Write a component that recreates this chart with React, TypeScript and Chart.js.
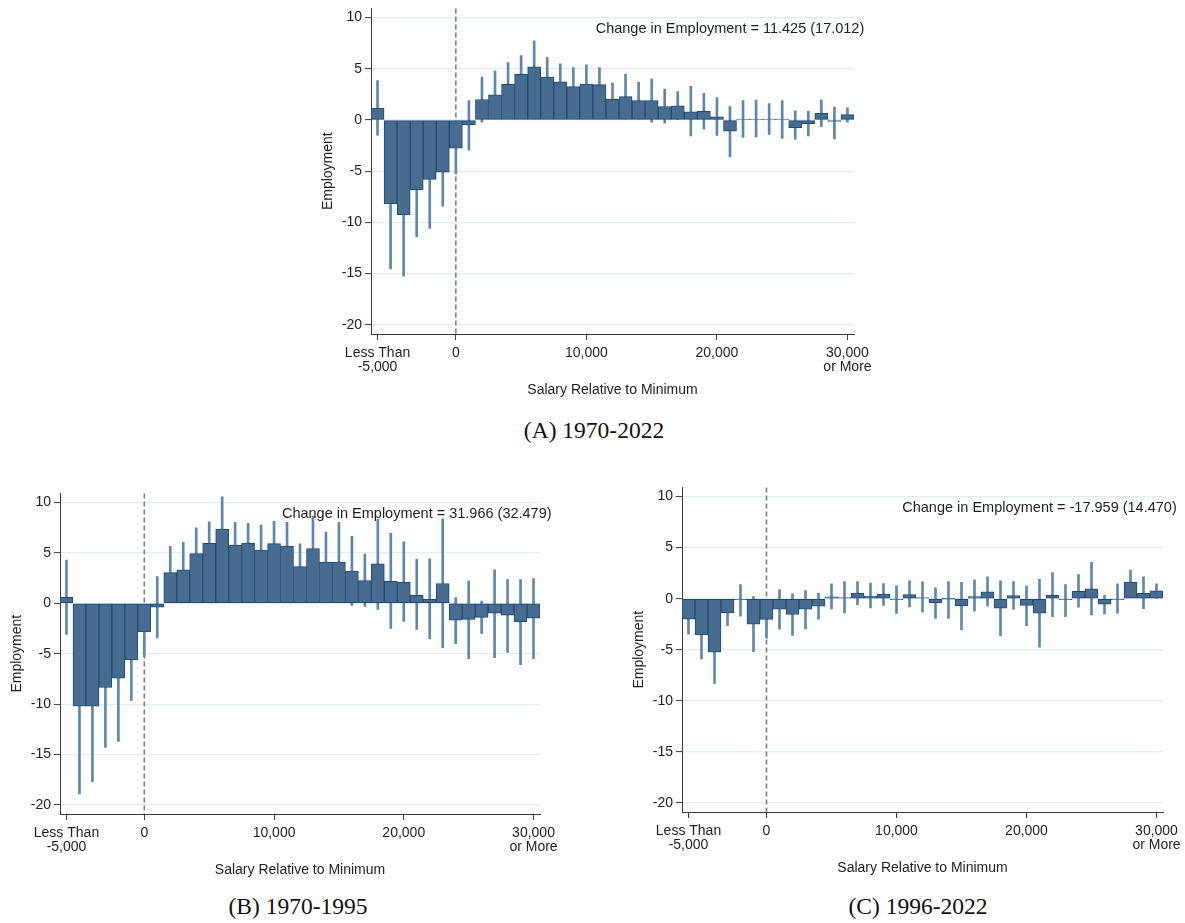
import React, { useEffect, useRef } from "react";
import { Chart, registerables } from "chart.js";

Chart.register(...registerables);

// ---------------- data ----------------
// bin centres (salary relative to minimum), first = "Less Than -5,000", last = "30,000 or More"
const salaryBins = [
  -6000, -5000, -4000, -3000, -2000, -1000, 0, 1000, 2000, 3000, 4000, 5000, 6000,
  7000, 8000, 9000, 10000, 11000, 12000, 13000, 14000, 15000, 16000, 17000, 18000,
  19000, 20000, 21000, 22000, 23000, 24000, 25000, 26000, 27000, 28000, 29000, 30000,
];

const xTickValues = [-6000, 0, 10000, 20000, 30000];
const xTickLabels: (string | string[])[] = [["Less Than", "-5,000"], "0", "10,000", "20,000", ["30,000", "or More"]];
const yTickValues = [-20, -15, -10, -5, 0, 5, 10];

const refLineX = 0;
const noteX = 21000;
const noteY = 8.9;

// Panel A: 1970-2022
const estA = [
  1.16, -8.2, -9.25, -6.8, -5.8, -5.1, -2.74, -0.48, 2.0, 2.45, 3.48, 4.45, 5.19,
  4.19, 3.74, 3.26, 3.5, 3.45, 2.03, 2.29, 1.9, 1.9, 1.32, 1.39, 0.8,
  0.84, 0.3, -1.1, 0.05, 0.1, 0.05, 0.02, -0.75, -0.35, 0.65, -0.15, 0.52,
];
const hiA = [
  3.84, -1.85, -3.25, -2.2, -1.0, -1.78, -0.21, 1.9, 4.2, 4.77, 5.6, 6.3, 7.74,
  6.1, 5.48, 5.13, 5.39, 5.13, 3.6, 4.48, 3.7, 4.0, 3.0, 2.77, 3.3,
  2.6, 2.2, 1.3, 1.9, 1.95, 1.6, 1.9, 0.9, 0.87, 1.97, 1.26, 1.2,
];
const loA = [
  -1.48, -14.55, -15.25, -11.4, -10.6, -8.42, -5.27, -2.94, -0.2, 0.13, 1.36, 2.6, 2.64,
  2.28, 2.0, 1.39, 1.61, 1.77, 0.46, 0.1, 0.1, -0.2, -0.3, 0.0, -1.55,
  -0.9, -1.5, -3.6, -1.7, -1.65, -1.4, -1.8, -1.9, -1.55, -0.65, -1.84, -0.2,
];
const noteA = "Change in Employment = 11.425 (17.012)";

// Panel B: 1970-1995
const estB = [
  0.59, -10.2, -10.2, -8.35, -7.42, -5.62, -2.84, -0.39, 3.04, 3.33, 4.93, 5.95, 7.35,
  5.78, 5.98, 5.29, 5.92, 5.67, 3.63, 5.42, 4.08, 4.08, 3.2, 2.25, 3.92,
  2.19, 2.09, 0.78, 0.39, 1.96, -1.67, -1.6, -1.4, -0.98, -1.18, -1.83, -1.47,
];
const hiB = [
  4.28, -1.5, -2.7, -2.4, -1.14, -1.6, -0.38, 2.65, 5.65, 6.05, 7.48, 8.07, 10.55,
  8.04, 7.94, 7.75, 8.14, 8.04, 5.9, 8.66, 7.06, 8.04, 6.63, 4.87, 8.33,
  6.93, 6.1, 4.35, 4.4, 8.37, 0.56, 2.2, 0.23, 3.33, 2.35, 2.35, 2.45,
];
const loB = [
  -3.1, -18.9, -17.7, -14.3, -13.7, -9.64, -5.3, -3.43, 0.43, 0.61, 2.38, 3.83, 4.15,
  3.52, 4.02, 2.83, 3.7, 3.3, 1.36, 2.18, 1.1, 0.12, -0.2, -0.3, -0.6,
  -2.5, -1.8, -2.6, -3.5, -4.4, -4.0, -5.5, -3.0, -5.4, -4.87, -6.08, -5.5,
];
const noteB = "Change in Employment = 31.966 (32.479)";

// Panel C: 1996-2022
const estC = [
  -2.0, -3.55, -5.23, -1.39, -0.05, -2.5, -2.03, -1.03, -1.55, -1.03, -0.74, 0.19, 0.1,
  0.55, 0.26, 0.45, -0.05, 0.39, 0.05, -0.39, 0.0, -0.68, 0.2, 0.68, -0.94,
  0.29, -0.65, -1.42, 0.32, -0.1, 0.71, 0.97, -0.55, -0.05, 1.61, 0.52, 0.77,
];
const hiC = [
  -0.5, -1.2, -2.15, -0.13, 1.39, 0.2, -0.2, 0.9, 0.48, 0.8, 0.55, 1.45, 1.68,
  1.68, 1.52, 1.48, 1.26, 1.74, 1.65, 1.06, 1.68, 1.6, 1.84, 2.13, 1.74,
  1.68, 1.23, 1.9, 2.55, 1.39, 2.35, 3.55, 0.32, 1.45, 2.8, 2.13, 1.45,
];
const loC = [
  -3.48, -5.9, -8.3, -2.65, -1.71, -5.2, -3.87, -3.0, -3.6, -2.97, -2.0, -1.0, -1.39,
  -0.58, -0.9, -0.65, -1.45, -0.8, -1.3, -1.94, -1.94, -3.06, -1.23, -0.74, -3.65,
  -1.03, -2.65, -4.74, -1.77, -1.77, -0.84, -1.6, -1.5, -1.42, 0.4, -0.97, 0.06,
];
const noteC = "Change in Employment = -17.959 (14.470)";

const captionA = "(A) 1970-2022";
const captionB = "(B) 1970-1995";
const captionC = "(C) 1996-2022";

// ---------------- styles / layout ----------------
const SANS = '"Liberation Sans", Arial, Helvetica, sans-serif';
const SERIF = '"Liberation Serif", "Times New Roman", serif';
const BAR_FILL = "#476c90";
const BAR_EDGE = "#1f4a72";
const CI_COLOR = "#5f87ae";
const GRID = "#e4eced";
const AXIS = "#3c3c3c";
const TEXT = "#1e1e1e";

const Y_W = 70;
const X_H = 75;
const PAD_T = 8;
const PAD_R = 30;

type PanelProps = {
  est: number[];
  hi: number[];
  lo: number[];
  note: string;
  area: { left: number; top: number; right: number; bottom: number };
};

function Panel({ est, hi, lo, note, area }: PanelProps) {
  const ref = useRef<HTMLCanvasElement>(null);
  const cLeft = area.left - Y_W;
  const cTop = area.top - PAD_T;
  const cW = area.right + PAD_R - cLeft;
  const cH = area.bottom + X_H - cTop;

  useEffect(() => {
    if (!ref.current) return;
    const overlay = {
      id: "overlay",
      beforeDatasetsDraw(chart: any) {
        const { ctx, chartArea, scales } = chart;
        const x0 = scales.x.getPixelForValue(refLineX);
        ctx.save();
        ctx.strokeStyle = "#7e7e7e";
        ctx.lineWidth = 1.6;
        ctx.setLineDash([5, 3]);
        ctx.beginPath();
        ctx.moveTo(x0, chartArea.top);
        ctx.lineTo(x0, chartArea.bottom);
        ctx.stroke();
        ctx.restore();
      },
      afterDatasetsDraw(chart: any) {
        const { ctx, scales } = chart;
        ctx.save();
        ctx.font = `14.5px ${SANS}`;
        ctx.fillStyle = TEXT;
        ctx.textAlign = "center";
        ctx.textBaseline = "middle";
        ctx.fillText(note, scales.x.getPixelForValue(noteX), scales.y.getPixelForValue(noteY));
        ctx.restore();
      },
    };

    const chart = new Chart(ref.current, {
      type: "bar",
      data: {
        datasets: [
          {
            label: "estimate",
            data: salaryBins.map((x, i) => ({ x, y: est[i] })),
            backgroundColor: BAR_FILL,
            borderColor: BAR_EDGE,
            borderWidth: 1,
            borderSkipped: false,
            grouped: false,
            barPercentage: 1,
            categoryPercentage: 1,
            minBarLength: 1,
            order: 0,
          } as any,
          {
            label: "ci",
            data: salaryBins.map((x, i) => ({ x, y: [lo[i], hi[i]] })),
            backgroundColor: CI_COLOR,
            borderWidth: 0,
            barThickness: 2,
            grouped: false,
            order: 1,
          } as any,
        ],
      },
      options: {
        responsive: false,
        animation: false,
        devicePixelRatio: 1,
        layout: { padding: { top: PAD_T, right: PAD_R, left: 0, bottom: 0 } },
        plugins: { legend: { display: false }, tooltip: { enabled: false } },
        scales: {
          x: {
            type: "linear",
            min: -6500,
            max: 30500,
            offset: false,
            afterBuildTicks: (s: any) => {
              s.ticks = xTickValues.map((v) => ({ value: v }));
            },
            afterFit: (s: any) => {
              s.height = X_H;
            },
            ticks: {
              autoSkip: false,
              maxRotation: 0,
              padding: 6,
              color: TEXT,
              font: { family: SANS, size: 14, lineHeight: 1.0 },
              callback: (v: any) => {
                const i = xTickValues.indexOf(Number(v));
                return i >= 0 ? xTickLabels[i] : "";
              },
            },
            grid: {
              display: true,
              offset: false,
              drawOnChartArea: false,
              drawTicks: true,
              tickLength: 6,
              tickColor: AXIS,
              tickWidth: 1,
            },
            border: { display: true, color: AXIS, width: 1 },
            title: {
              display: true,
              text: "Salary Relative to Minimum",
              color: TEXT,
              font: { family: SANS, size: 14, lineHeight: 1.2 },
              padding: { top: 0, bottom: 10 },
            },
          } as any,
          y: {
            type: "linear",
            min: -20.9,
            max: 10.9,
            afterBuildTicks: (s: any) => {
              s.ticks = yTickValues.map((v) => ({ value: v }));
            },
            afterFit: (s: any) => {
              s.width = Y_W;
            },
            ticks: {
              padding: 3,
              color: TEXT,
              font: { family: SANS, size: 14 },
              callback: (v: any) => String(v),
            },
            grid: {
              color: GRID,
              lineWidth: 1.2,
              drawTicks: true,
              tickLength: 6,
              tickColor: AXIS,
              tickWidth: 1,
            },
            border: { display: true, color: AXIS, width: 1 },
            title: {
              display: true,
              text: "Employment",
              color: TEXT,
              font: { family: SANS, size: 14, lineHeight: 1.2 },
              padding: { top: 19, bottom: 0 },
            },
          } as any,
        },
      },
      plugins: [overlay],
    });
    return () => chart.destroy();
  }, []);

  return (
    <canvas
      ref={ref}
      width={cW}
      height={cH}
      style={{ position: "absolute", left: cLeft, top: cTop, width: cW, height: cH }}
    />
  );
}

function Caption({ text, x, y }: { text: string; x: number; y: number }) {
  return (
    <div
      style={{
        position: "absolute",
        left: x,
        top: y,
        transform: "translate(-50%, -50%)",
        whiteSpace: "nowrap",
        fontFamily: SERIF,
        fontSize: 23.5,
        color: "#111",
      }}
    >
      {text}
    </div>
  );
}

export default function App() {
  return (
    <div
      style={{
        position: "absolute",
        left: 0,
        top: 0,
        width: 1185,
        height: 923,
        overflow: "hidden",
        background: "#ffffff",
      }}
    >
      <Panel est={estA} hi={hiA} lo={loA} note={noteA} area={{ left: 371, top: 5, right: 854, bottom: 334 }} />
      <Panel est={estB} hi={hiB} lo={loB} note={noteB} area={{ left: 60, top: 490, right: 540, bottom: 814 }} />
      <Panel est={estC} hi={hiC} lo={loC} note={noteC} area={{ left: 682, top: 484, right: 1163, bottom: 812 }} />
      <Caption text={captionA} x={594} y={430} />
      <Caption text={captionB} x={298} y={906} />
      <Caption text={captionC} x={918} y={906} />
    </div>
  );
}
